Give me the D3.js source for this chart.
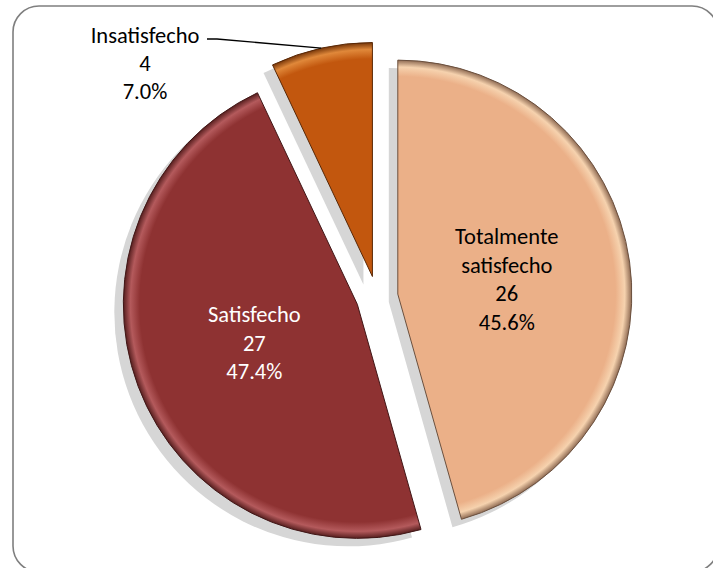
<!DOCTYPE html>
<html>
<head>
<meta charset="utf-8">
<script src="https://cdn.jsdelivr.net/npm/d3@7"></script>
<style>
  body { margin: 0; background: #fff; }
  text { font-family: Carlito, Calibri, Lato, "Open Sans", sans-serif; }
</style>
</head>
<body>
<div id="chart"></div>
<script>
// data
let categories = ["Totalmente satisfecho", "Satisfecho", "Insatisfecho"];
let counts = [26, 27, 4];
let percents = ["45.6%", "47.4%", "7.0%"];
let labelLines = [["Totalmente", "satisfecho"], ["Satisfecho"], ["Insatisfecho"]];

let colors = ["#EBB088", "#8E3232", "#C2570E"];
let edgeColors = ["#F6D2AE", "#B45A5C", "#E0883A"];
let textColors = ["#000", "#fff", "#000"];

let W = 713, H = 568;
let cx = 377, cy = 297, R = 234, explode = 21;

let svg = d3.select("#chart").append("svg")
    .attr("width", W)
    .attr("height", H);

// frame
svg.append("rect")
    .attr("x", 13).attr("y", 6)
    .attr("width", 705).attr("height", 566)
    .attr("rx", 26)
    .attr("fill", "none")
    .attr("stroke", "#7f7f7f")
    .attr("stroke-width", 1.6);

let data = categories.map((c, i) => ({ name: c, value: counts[i], i: i }));

let pie = d3.pie().sort(null).value(d => d.value);
let arcs = pie(data);

let arc = d3.arc().innerRadius(0).outerRadius(R);
let labelArc = d3.arc().innerRadius(R * 0.47).outerRadius(R * 0.47);

function offset(d) {
    let a = (d.startAngle + d.endAngle) / 2;
    return [cx + explode * Math.sin(a), cy - explode * Math.cos(a)];
}

// gradients for a soft bevel on the rim
let defs = svg.append("defs");
arcs.forEach((d, i) => {
    let g = defs.append("radialGradient")
        .attr("id", "grad" + i)
        .attr("gradientUnits", "userSpaceOnUse")
        .attr("cx", 0).attr("cy", 0).attr("r", R);
    g.append("stop").attr("offset", "0%").attr("stop-color", colors[i]);
    g.append("stop").attr("offset", "93%").attr("stop-color", colors[i]);
    g.append("stop").attr("offset", "97%").attr("stop-color", edgeColors[i]);
    g.append("stop").attr("offset", "100%").attr("stop-color", d3.color(colors[i]).darker(1.4));
});

// shadows
svg.append("g").selectAll("path")
    .data(arcs)
    .enter().append("path")
    .attr("transform", d => {
        let p = offset(d);
        return "translate(" + (p[0] - 9) + "," + (p[1] + 8) + ")";
    })
    .attr("d", arc)
    .attr("fill", "#d6d6d6");

// slices
let slices = svg.append("g").selectAll("g")
    .data(arcs)
    .enter().append("g")
    .attr("transform", d => "translate(" + offset(d) + ")");

slices.append("path")
    .attr("d", arc)
    .attr("fill", (d, i) => "url(#grad" + i + ")")
    .attr("stroke", (d, i) => d3.color(colors[i]).darker(2.2))
    .attr("stroke-width", 1);

// inner labels for the two big slices
let fs = 22.5, lh = 28.6;
slices.filter(d => d.data.i < 2).each(function (d) {
    let i = d.data.i;
    let c = labelArc.centroid(d);
    let lines = labelLines[i].concat([String(counts[i]), percents[i]]);
    let t = d3.select(this).append("text")
        .attr("text-anchor", "middle")
        .attr("font-size", fs)
        .attr("fill", textColors[i]);
    lines.forEach((s, k) => {
        t.append("tspan")
            .attr("x", c[0])
            .attr("y", c[1] + (k - (lines.length - 1) / 2) * lh + fs * 0.35)
            .text(s);
    });
});

// outside label for Insatisfecho with leader line
let small = arcs[2];
let sp = offset(small);
let tip = d3.arc().innerRadius(R).outerRadius(R).centroid(small);
let lx = 145, ly = 35;
let lines3 = labelLines[2].concat([String(counts[2]), percents[2]]);
let t3 = svg.append("text")
    .attr("text-anchor", "middle")
    .attr("font-size", fs)
    .attr("fill", "#000");
lines3.forEach((s, k) => {
    t3.append("tspan")
        .attr("x", lx)
        .attr("y", ly + k * 28 + fs * 0.35)
        .text(s);
});

svg.append("polyline")
    .attr("points", [[lx + 62, ly + 4], [lx + 72, ly + 4], [sp[0] + tip[0], sp[1] + tip[1]]].join(" "))
    .attr("fill", "none")
    .attr("stroke", "#000")
    .attr("stroke-width", 1.3);
</script>
</body>
</html>
